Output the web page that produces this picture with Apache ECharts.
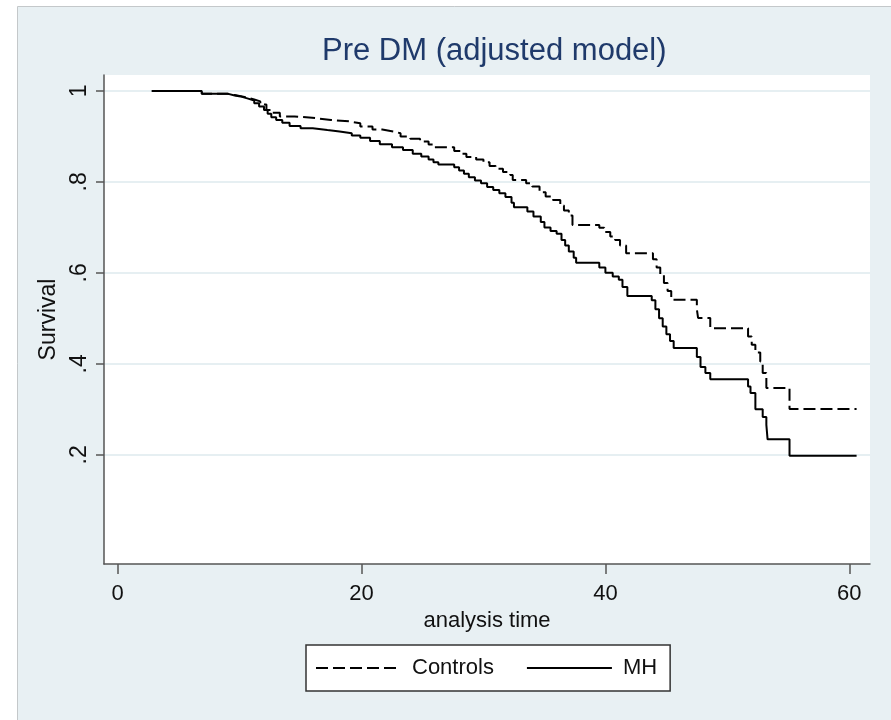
<!DOCTYPE html>
<html lang="en">
<head>
    <meta charset="UTF-8">
    <title>Pre DM (adjusted model)</title>
    <script src="https://cdn.jsdelivr.net/npm/echarts@6/dist/echarts.min.js"></script>
    <style>
        html, body { margin: 0; padding: 0; background: #fff; }
    </style>
</head>
<body>
    <div id="main" style="width: 891px;height: 720px"></div>
    <script>
        // Kaplan-Meier style steps [analysis time, survival]
        var controls = [
            [2.8, 1.0], [6.9, 0.994], [9.0, 0.991], [9.6, 0.988], [10.2, 0.985], [10.7, 0.981],
            [11.2, 0.977], [11.7, 0.97], [12.2, 0.958], [12.7, 0.952], [13.3, 0.944], [14.5, 0.94],
            [16.3, 0.936], [17.5, 0.933], [19.0, 0.929], [19.9, 0.922], [20.9, 0.915], [21.7, 0.911],
            [22.6, 0.907], [23.2, 0.9], [24.0, 0.895], [24.8, 0.889], [25.5, 0.882], [25.9, 0.876],
            [27.6, 0.868], [28.1, 0.862], [28.6, 0.855], [29.4, 0.849], [30.0, 0.843], [30.5, 0.835],
            [31.0, 0.829], [31.6, 0.822], [32.2, 0.815], [32.4, 0.804], [33.5, 0.797], [34.0, 0.79],
            [34.6, 0.777], [35.1, 0.768], [35.7, 0.76], [36.3, 0.748], [36.6, 0.737], [37.0, 0.726],
            [37.3, 0.705], [39.5, 0.699], [39.9, 0.69], [40.4, 0.68], [40.8, 0.672], [41.2, 0.66],
            [41.7, 0.643], [43.9, 0.63], [44.2, 0.612], [44.5, 0.595], [44.8, 0.578], [45.1, 0.56],
            [45.4, 0.541], [47.5, 0.52], [47.6, 0.501], [48.6, 0.478], [51.7, 0.46], [52.0, 0.442],
            [52.3, 0.425], [52.7, 0.405], [52.9, 0.38], [53.2, 0.347], [55.1, 0.301], [60.6, 0.301]
        ];
        var mh = [
            [2.8, 1.0], [6.9, 0.994], [9.0, 0.99], [9.6, 0.987], [10.2, 0.983], [10.7, 0.979],
            [11.2, 0.973], [11.6, 0.966], [12.0, 0.958], [12.3, 0.95], [12.6, 0.942], [13.0, 0.936],
            [13.5, 0.93], [14.1, 0.923], [15.0, 0.918], [16.0, 0.914], [17.2, 0.911], [18.2, 0.907],
            [19.2, 0.902], [19.9, 0.897], [20.7, 0.89], [21.5, 0.883], [22.5, 0.876], [23.4, 0.87],
            [24.2, 0.862], [24.9, 0.856], [25.5, 0.849], [25.9, 0.843], [26.3, 0.838], [27.6, 0.832],
            [28.0, 0.825], [28.4, 0.818], [28.8, 0.81], [29.3, 0.803], [29.8, 0.797], [30.3, 0.789],
            [30.8, 0.782], [31.3, 0.775], [31.8, 0.767], [32.3, 0.754], [32.5, 0.744], [33.6, 0.735],
            [34.1, 0.724], [34.7, 0.712], [35.0, 0.7], [35.5, 0.692], [36.0, 0.686], [36.4, 0.672],
            [36.7, 0.66], [37.0, 0.647], [37.4, 0.633], [37.6, 0.622], [39.5, 0.612], [40.0, 0.6],
            [40.6, 0.592], [41.1, 0.585], [41.4, 0.569], [41.8, 0.549], [43.8, 0.54], [44.1, 0.52],
            [44.4, 0.5], [44.7, 0.482], [45.0, 0.465], [45.3, 0.45], [45.6, 0.435], [47.5, 0.415],
            [47.8, 0.393], [48.2, 0.38], [48.6, 0.366], [51.7, 0.35], [51.9, 0.336], [52.3, 0.3],
            [52.9, 0.283], [53.2, 0.266], [53.3, 0.234], [55.1, 0.198], [60.6, 0.198]
        ];
        var xTicks = [0, 20, 40, 60];
        var yTicks = [0.2, 0.4, 0.6, 0.8, 1];
        var seriesNames = ['Controls', 'MH'];

        var font = 'Liberation Sans, Arial, sans-serif';
        var myChart = echarts.init(document.getElementById('main'));

        myChart.setOption({
            backgroundColor: '#ffffff',
            animation: false,
            // stata style outer panel
            graphic: [{
                type: 'rect',
                z: -10,
                shape: { x: 17.5, y: 6.5, width: 900, height: 720 },
                style: { fill: '#e8f0f3', stroke: '#c4c8ca', lineWidth: 1 }
            }],
            title: {
                text: 'Pre DM (adjusted model)',
                left: 317,
                top: 31,
                textStyle: { fontFamily: font, fontSize: 31, fontWeight: 'normal', color: '#1f3a6b' }
            },
            grid: {
                left: 104, right: 21, top: 75, bottom: 156,
                show: true, backgroundColor: '#ffffff', borderWidth: 0
            },
            legend: {
                data: seriesNames,
                left: 306,
                top: 645,
                padding: [12, 13, 12, 9],
                itemWidth: 85,
                itemHeight: 14,
                itemGap: 32,
                backgroundColor: '#ffffff',
                borderColor: '#333333',
                borderWidth: 1.5,
                // hide the little marker the line icon carries
                itemStyle: { color: 'transparent', borderColor: 'transparent', borderWidth: 0 },
                textStyle: { fontFamily: font, fontSize: 22, color: '#111', padding: [0, 0, 0, 6] }
            },
            xAxis: {
                type: 'value',
                min: -1.12,
                max: 61.7,
                name: 'analysis time',
                nameLocation: 'middle',
                nameGap: 43,
                nameTextStyle: { fontFamily: font, fontSize: 22, color: '#111' },
                axisLine: { onZero: false, lineStyle: { color: '#555', width: 1.5 } },
                axisTick: { customValues: xTicks, length: 10, lineStyle: { color: '#555', width: 1.5 } },
                axisLabel: { customValues: xTicks, margin: 19, fontFamily: font, fontSize: 22, color: '#111' },
                splitLine: { show: false }
            },
            yAxis: {
                type: 'value',
                min: -0.04,
                max: 1.035,
                name: 'Survival',
                nameLocation: 'middle',
                nameGap: 37,
                nameTextStyle: { fontFamily: font, fontSize: 23, color: '#111' },
                axisLine: { show: true, onZero: false, lineStyle: { color: '#555', width: 1.5 } },
                axisTick: { show: true, customValues: yTicks, length: 8, lineStyle: { color: '#555', width: 1.5 } },
                axisLabel: {
                    customValues: yTicks,
                    rotate: 90,
                    margin: 13,
                    fontFamily: font, fontSize: 23, color: '#111',
                    formatter: function (v) {
                        return v === 1 ? '1' : String(v).replace('0.', '.');
                    }
                },
                splitLine: { show: true, lineStyle: { color: '#e6eff2', width: 2 } }
            },
            series: [{
                name: 'Controls',
                type: 'line',
                step: 'end',
                showSymbol: false,
                symbol: 'none',
                lineStyle: { color: '#000', width: 2, type: [12, 5] },
                itemStyle: { color: '#000' },
                data: controls
            }, {
                name: 'MH',
                type: 'line',
                step: 'end',
                showSymbol: false,
                symbol: 'none',
                lineStyle: { color: '#000', width: 2 },
                itemStyle: { color: '#000' },
                data: mh
            }]
        });
    </script>
</body>
</html>
